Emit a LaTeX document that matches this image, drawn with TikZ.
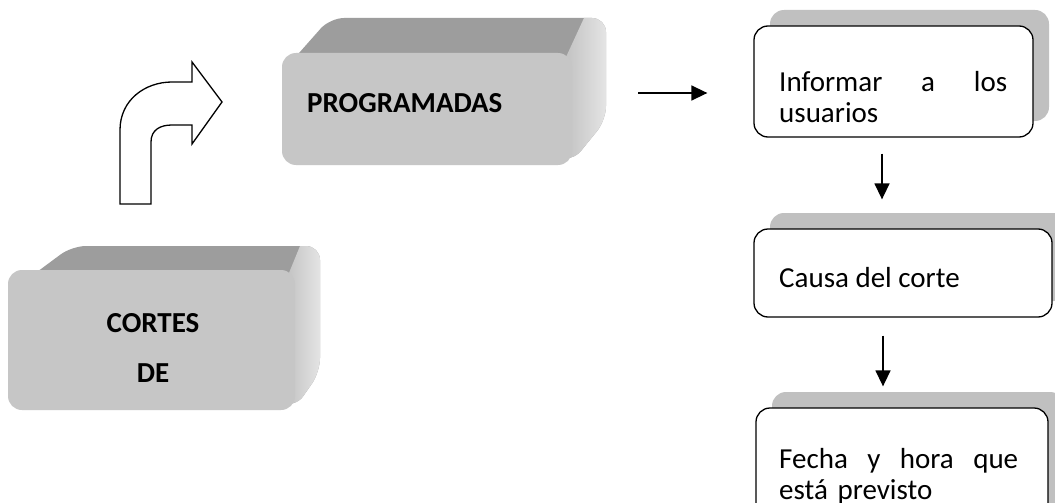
\documentclass[tikz,border=0pt]{standalone}
\usepackage{fontspec}
\setmainfont{Carlito}
\usetikzlibrary{calc,arrows.meta}
\definecolor{frontc}{HTML}{C6C6C6}
\definecolor{topc}{HTML}{9D9D9D}
\definecolor{sidel}{HTML}{BEBEBE}
\definecolor{sider}{HTML}{E6E6E6}
\definecolor{shadowc}{HTML}{C0C0C0}
\begin{document}
\begin{tikzpicture}[x=1pt,y=-1pt,
  front/.style={fill=frontc, draw=none, rounded corners=14pt, rectangle, inner sep=0pt},
  sideface/.style={left color=sidel, right color=sider},
  rbox/.style={draw=black, line width=1.3pt, fill=white, rounded corners=14pt, rectangle, inner sep=0pt},
  shadowbox/.style={fill=shadowc, rounded corners=14pt},
  txt/.style={font=\fontsize{29}{31}\selectfont, inner sep=0pt, anchor=base west},
  btxt/.style={font=\fontsize{29}{33}\selectfont\bfseries, inner sep=0pt},
  arr/.style={-{Triangle[length=16pt,width=15pt]}, line width=1.5pt},
  bent/.style={draw=black, fill=white, line width=1.3pt, line join=miter}
]
\useasboundingbox (0,0) rectangle (1055,503);
\begin{scope}
\clip (0,0) rectangle (1055,503);
\fill[white] (0,0) rectangle (1055,503);

% ---- CORTES DE block ----
\begin{scope}
\clip[rounded corners=14pt] (10,292) -- (72,246) -- (320,246) -- (320,372) -- (295,408) -- cycle;
\fill[topc] (0,240) rectangle (330,420);
\shade[sideface] (282,290) -- (300,246) -- (322,246) -- (322,420) -- (282,420) -- cycle;
\end{scope}
\node[front, minimum width=287pt, minimum height=140pt] (cortes) at (151.5,340) {};
\node[btxt, align=center] (cortesT) at (153,348) {CORTES\\[17pt]DE};

% ---- PROGRAMADAS block ----
\begin{scope}
\clip[rounded corners=14pt] (284,70) -- (330,18) -- (606,18) -- (606,120) -- (572,162) -- cycle;
\fill[topc] (280,10) rectangle (610,170);
\shade[sideface] (560,70) -- (584,18) -- (608,18) -- (608,170) -- (560,170) -- cycle;
\end{scope}
\node[front, minimum width=290pt, minimum height=112pt] (prog) at (427,109) {};
\node[btxt, anchor=base west] (progT) at (307,112) {PROGRAMADAS};

% ---- bent arrow ----
\path[bent] (120,204) -- (120,130) .. controls (120,100) and (145,82) .. (172,82)
  -- (192,82) -- (192,62) -- (222,102) -- (192,144) -- (192,125) -- (172,125)
  .. controls (160,125) and (151,130) .. (151,142) -- (151,204) -- cycle;

% ---- right boxes ----
\fill[shadowbox] (770,10) rectangle (1049,121);
\node[rbox, minimum width=279pt, minimum height=111pt] (b1) at (893.5,81.5) {};
\node[txt, text width=228pt, align=left] (b1T) at (779,92) {Informar\hfill a\hfill los\\usuarios};

\fill[shadowbox] (770,213) rectangle (1068,301);
\node[rbox, minimum width=298pt, minimum height=88pt] (b2) at (903,273) {};
\node[txt] (b2T) at (779,287) {Causa del corte};

\fill[shadowbox] (772,392) rectangle (1064,524);
\node[rbox, minimum width=292pt, minimum height=132pt] (b3) at (902,474) {};
\node[txt, text width=239pt, align=left] (b3T) at (779,468) {Fecha\hfill y\hfill hora\hfill que\\está previsto};

% ---- connectors ----
\draw[arr] ($(prog.east)+(66,-16)$) -- ($(b1.west)+(-46,11.5)$);
\draw[arr] ($(b1.south)+(-11.5,16)$) -- ($(b2.north)+(-21,-29)$);
\draw[arr] ($(b2.south)+(-20,18)$) -- ($(b3.north)+(-19,-21)$);
\end{scope}
\end{tikzpicture}
\end{document}
